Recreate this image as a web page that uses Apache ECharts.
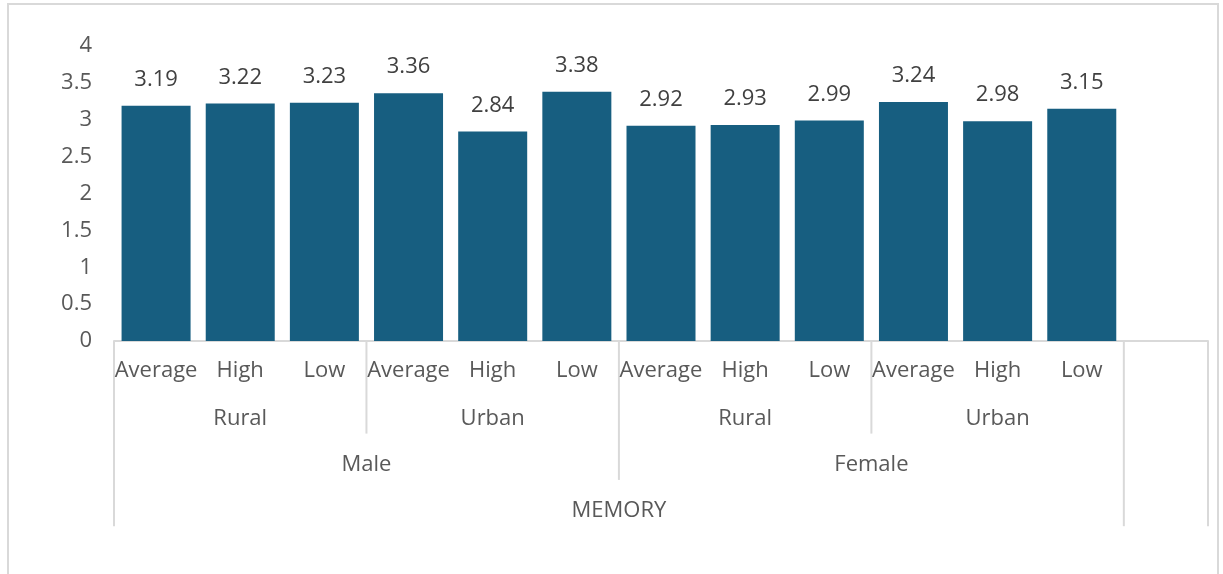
<!DOCTYPE html>
<html>
<head>
<meta charset="utf-8">
<script src="https://cdn.jsdelivr.net/npm/echarts@6/dist/echarts.min.js"></script>
<style>
html,body{margin:0;padding:0;background:#fff;}
#c{width:1223px;height:574px;}
</style>
</head>
<body>
<div id="c"></div>
<script>
// Level 1 categories (13th slot is empty in the original)
const categories = ["Average","High","Low","Average","High","Low","Average","High","Low","Average","High","Low",""];
const values = [3.19,3.22,3.23,3.36,2.84,3.38,2.92,2.93,2.99,3.24,2.98,3.15,null];
// Level 2 groups: [label, startIndex, endIndex(exclusive)]
const level2 = [["Rural",0,3],["Urban",3,6],["Rural",6,9],["Urban",9,12]];
const level3 = [["Male",0,6],["Female",6,12]];
const level4 = [["MEMORY",0,12]];
const yTicks = {min:0, max:4, interval:0.5};

const FONT = "'Open Sans', 'Noto Sans', sans-serif";
const FS = 22;
const TXT = "#595959";
const LINE = "#d9d9d9";

const chart = echarts.init(document.getElementById('c'), null, {renderer:'canvas'});
const option = {
  animation:false,
  grid:{left:114, right:15, top:46, bottom:233, containLabel:false},
  xAxis:{
    type:'category', data:categories,
    axisLine:{show:true, lineStyle:{color:LINE, width:2}},
    axisTick:{show:false},
    axisLabel:{color:TXT, fontSize:FS, fontFamily:FONT, margin:19, interval:0}
  },
  yAxis:{
    type:'value', min:yTicks.min, max:yTicks.max, interval:yTicks.interval,
    axisLine:{show:false}, axisTick:{show:false}, splitLine:{show:false},
    axisLabel:{color:TXT, fontSize:FS, fontFamily:FONT, margin:22}
  },
  series:[{
    type:'bar', data:values, barCategoryGap:'18%',
    itemStyle:{color:'#175E80'},
    label:{show:true, position:'top', distance:15, color:'#404040', fontSize:FS, fontFamily:FONT,
      formatter:p=>p.value==null?'':p.value.toFixed(2)}
  }]
};
chart.setOption(option);

function px(i){ return chart.convertToPixel({xAxisIndex:0}, i); }
const slot = px(1)-px(0);
const edge = i => px(i) - slot/2;   // left edge of category i
const y0 = chart.convertToPixel({yAxisIndex:0}, 0);
const rowH = 46.3;
const g = [];
// outer frame
g.push({type:'rect', shape:{x:8,y:4,width:1210,height:600}, style:{fill:null, stroke:LINE, lineWidth:2}, silent:true, z:-1});
function vline(x, depth){
  g.push({type:'line', shape:{x1:x,y1:y0,x2:x,y2:y0+rowH*depth}, style:{stroke:LINE, lineWidth:2}, silent:true});
}
// boundary lines with depth by hierarchy level
vline(edge(0),4);
vline(edge(3),2);
vline(edge(6),3);
vline(edge(9),2);
vline(edge(12),4);
vline(edge(13),4);
function labels(arr,row){
  arr.forEach(([t,s,e])=>{
    const cx = (edge(s)+edge(e))/2;
    g.push({type:'text', x:cx, y:y0+rowH*row+31, style:{text:t, fill:TXT, font:FS+'px '+FONT, textAlign:'center', textVerticalAlign:'middle'}, silent:true});
  });
}
labels(level2,1);
labels(level3,2);
labels(level4,3);
chart.setOption({graphic:g});
</script>
</body>
</html>
